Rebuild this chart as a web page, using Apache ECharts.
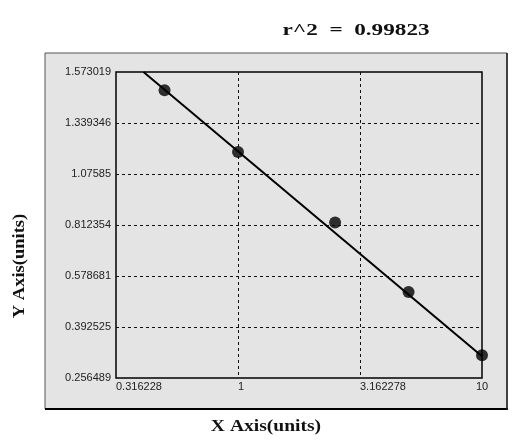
<!DOCTYPE html>
<html>
<head>
<meta charset="utf-8">
<script src="https://cdn.jsdelivr.net/npm/echarts@6/dist/echarts.min.js"></script>
<style>html,body{margin:0;padding:0;background:#fff}#c{width:525px;height:447px}</style>
</head>
<body>
<div id="c"></div>
<script>
// ---- data ----
const titleText = 'r^2  =  0.99823';
const xAxisName = 'X Axis(units)';
const yAxisName = 'Y Axis(units)';
const xTickLabels = ['0.316228', '1', '3.162278', '10'];
const yTickLabels = ['0.256489', '0.392525', '0.578681', '0.812354', '1.07585', '1.339346', '1.573019'];
const xValues = [0.5, 1, 2.5, 5, 10];
const yValues = [1.489, 1.189, 0.825, 0.520, 0.317];
const fitX = [0.41, 10];
const fitY = [1.573019, 0.3143];

// ---- y axis of the original uses evenly spaced, irregular tick values ----
const yTickValues = yTickLabels.map(Number);
function yPos(v) {
  const t = yTickValues;
  for (let i = 0; i < t.length - 1; i++) {
    if (v <= t[i + 1] || i === t.length - 2) {
      return i + (v - t[i]) / (t[i + 1] - t[i]);
    }
  }
  return 0;
}

const chart = echarts.init(document.getElementById('c'), null, {renderer: 'canvas'});
const gray = '#e4e4e4';
const labelFont = {fontFamily: 'Liberation Sans, Arial, sans-serif', fontSize: 11, color: '#222'};
const serif = '"Liberation Serif", "Times New Roman", serif';

chart.setOption({
  backgroundColor: '#ffffff',
  animation: false,
  graphic: [
    {type: 'rect', z: -100, shape: {x: 45, y: 53, width: 462, height: 356},
     style: {fill: gray, stroke: '#555', lineWidth: 1}},
    {type: 'line', z: -99, shape: {x1: 45, y1: 409, x2: 508, y2: 409}, style: {stroke: '#000', lineWidth: 2}},
    {type: 'line', z: -99, shape: {x1: 507, y1: 53, x2: 507, y2: 410}, style: {stroke: '#222', lineWidth: 1.5}},
    {type: 'text', x: 356, y: 31, scaleX: 1.45, style: {text: titleText, fill: '#111', textAlign: 'center', textVerticalAlign: 'middle',
      font: 'bold 16px ' + serif}},
    {type: 'text', x: 266, y: 427, scaleX: 1.15, style: {text: xAxisName, fill: '#111', textAlign: 'center', textVerticalAlign: 'middle',
      font: 'bold 17px ' + serif}},
    {type: 'text', x: 20, y: 266, rotation: Math.PI / 2, scaleX: 1.09, style: {text: yAxisName, fill: '#111', textAlign: 'center', textVerticalAlign: 'middle',
      font: 'bold 17px ' + serif}}
  ],
  grid: {left: 116, top: 72, right: 43, bottom: 69, show: true, backgroundColor: gray, borderColor: '#000', borderWidth: 1.5},
  xAxis: {
    type: 'log',
    logBase: Math.sqrt(10),
    min: Math.pow(10, -0.5),
    max: 10,
    splitNumber: 3,
    axisLine: {show: false},
    axisTick: {show: false},
    axisLabel: Object.assign({
      margin: 3,
      align: 'left',
      alignMaxLabel: 'center',
      formatter: function (v) { return xTickLabels[Math.round(Math.log10(v) * 2) + 1]; }
    }, labelFont),
    splitLine: {show: true, showMinLine: false, showMaxLine: false,
      lineStyle: {color: '#111', width: 1, type: [3, 3]}}
  },
  yAxis: {
    type: 'value',
    min: 0,
    max: yTickLabels.length - 1,
    interval: 1,
    axisLine: {show: false},
    axisTick: {show: false},
    axisLabel: Object.assign({
      margin: 5,
      formatter: function (v) { return yTickLabels[Math.round(v)]; }
    }, labelFont),
    splitLine: {show: true, showMinLine: false, showMaxLine: false,
      lineStyle: {color: '#111', width: 1, type: [3, 3]}}
  },
  series: [
    {
      type: 'line',
      data: fitX.map((x, i) => [x, yPos(fitY[i])]),
      symbol: 'none',
      lineStyle: {color: '#000', width: 2},
      z: 3
    },
    {
      type: 'scatter',
      data: xValues.map((x, i) => [x, yPos(yValues[i])]),
      symbol: 'circle',
      symbolSize: 12,
      itemStyle: {color: '#000'},
      z: 4
    }
  ]
});
</script>
</body>
</html>
